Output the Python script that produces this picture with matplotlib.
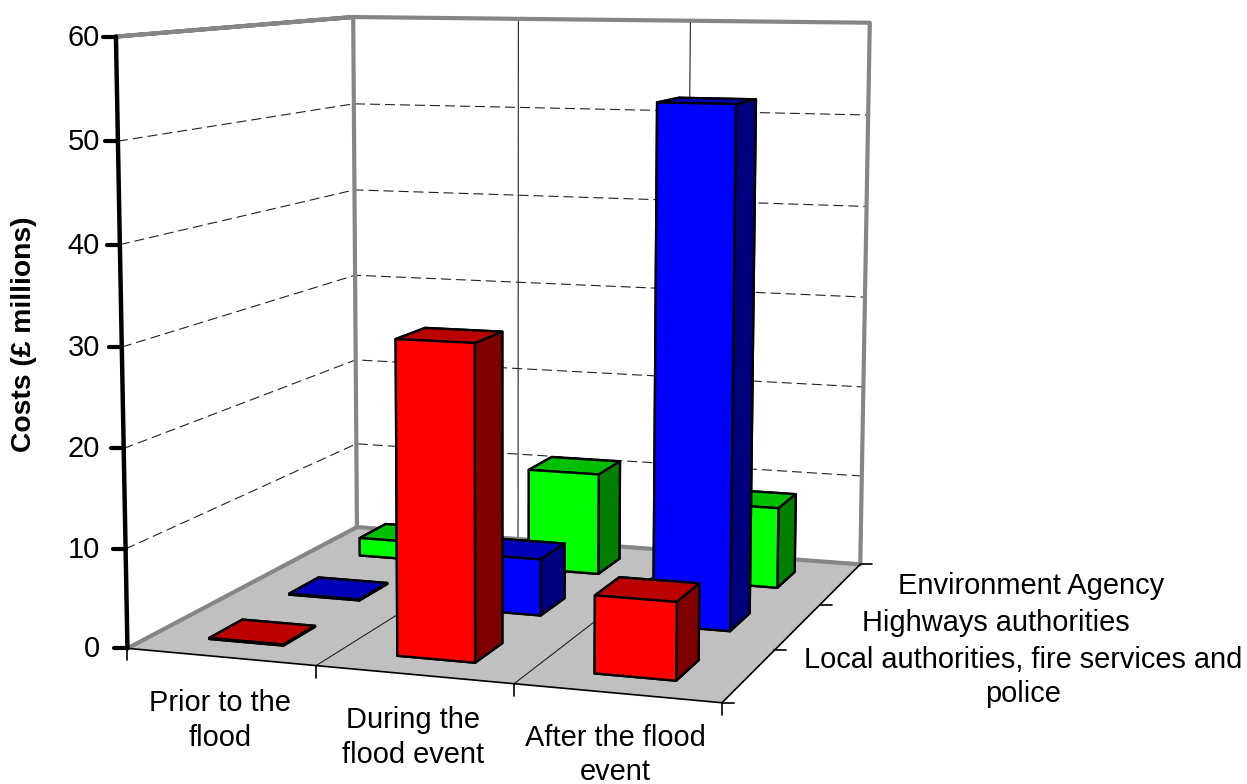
"""3D bar chart of flood costs, drawn with mplot3d and a camera fitted to the wall corners."""
import matplotlib
matplotlib.use("Agg")
import matplotlib.pyplot as plt
import numpy as np
from matplotlib.lines import Line2D
from mpl_toolkits.mplot3d.art3d import Poly3DCollection

W, H = 1247, 784

plt.rcParams["font.family"] = ["Liberation Sans", "DejaVu Sans"]

# %% data ---------------------------------------------------------------------
CATEGORIES = ["Prior to the\nflood", "During the\nflood event", "After the flood\nevent"]
SERIES = ["Local authorities, fire services and\npolice", "Highways authorities", "Environment Agency"]
LOCAL = [0.1, 31.2, 7.6]
HIGHWAYS = [0.1, 5.9, 53.1]
AGENCY = [2.0, 11.1, 8.7]
Z_TICKS = [0, 10, 20, 30, 40, 50, 60]

# colours per series: front, top, side
COLOURS = [("#ff0000", "#bb0000", "#7f0000"),
           ("#0000ff", "#0000bb", "#00007f"),
           ("#00ff00", "#00bf00", "#007f00")]

# %% camera: (x, y, z) in chart units -> picture pixels, fitted to the frame ---
CALIB = [
    (0, 0, 0, 128, 648), (1, 0, 0, 316, 666), (2, 0, 0, 513, 684), (3, 0, 0, 720, 703),
    (3, 1, 0, 775, 651), (3, 2, 0, 822, 604), (3, 3, 0, 860, 564), (0, 3, 0, 357, 527),
    (0, 0, 60, 116, 36), (0, 0, 50, 118, 140), (0, 0, 40, 120, 245), (0, 0, 30, 122, 347),
    (0, 0, 20, 124, 449), (0, 0, 10, 126, 549),
    (0, 3, 60, 353, 17), (0, 3, 50, 353, 104), (0, 3, 40, 354, 190), (0, 3, 10, 356, 444),
    (1, 3, 60, 519, 19), (2, 3, 60, 691, 21), (3, 3, 60, 870, 23),
    (3, 3, 50, 868, 115), (3, 3, 40, 866, 207), (3, 3, 30, 865, 297), (3, 3, 20, 863, 386),
    (3, 3, 10, 862, 476),
]


def fit_camera(points):
    rows, rhs = [], []
    for x, y, z, u, v in points:
        rows.append([x, y, z, 1, 0, 0, 0, 0, -u * x, -u * y, -u * z])
        rows.append([0, 0, 0, 0, x, y, z, 1, -v * x, -v * y, -v * z])
        rhs += [u, v]
    p = np.linalg.lstsq(np.array(rows, float), np.array(rhs, float), rcond=None)[0]
    return np.append(p, 1.0).reshape(3, 4)


P = fit_camera(CALIB)


def to_px(x, y, z):
    u, v, w = P @ np.array([x, y, z, 1.0])
    return u / w, v / w


def fig_xy(px, py):
    return px / W, 1 - py / H


fig = plt.figure(figsize=(W / 100, H / 100), dpi=100)
# square axes wide enough to hold the whole picture
ax = fig.add_axes([0, (H - W) / 2 / H, 1, W / H], projection="3d")
ax.set_axis_off()
ax.computed_zorder = False
ax.apply_aspect()

# express the camera in the 2D coordinates of the 3D axes
inv = ax.transData.inverted()
(u0, v0), (u1, v1) = inv.transform([(0, H), (W, 0)])  # pixel (0,0) and (W,H)
a, b = (u1 - u0) / W, u0
c, d = (v1 - v0) / H, v0
M = np.array([a * P[0] + b * P[2], c * P[1] + d * P[2], [0, 0, 0, -1.0], P[2]])
ax.get_proj = lambda: M


# %% floor and frame ----------------------------------------------------------
def line3(xs, ys, zs, **kw):
    ax.plot(xs, ys, zs, solid_capstyle="round", **kw)


floor = Poly3DCollection([[(0, 0, 0), (3, 0, 0), (3, 3, 0), (0, 3, 0)]],
                         facecolors="#c0c0c0", edgecolors="none", zorder=1)
ax.add_collection3d(floor)

for z in Z_TICKS[1:-1]:
    line3([0, 0, 3], [0, 3, 3], [z, z, z], color="#222222", lw=0.8,
          dashes=(9, 4.5), zorder=2)
for x in (1, 2):
    line3([x, x, x], [0, 3, 3], [0, 0, 60], color="#222222", lw=0.8, zorder=2)

GREY = "#868686"
line3([0, 0, 0, 3, 3, 0, 0], [0, 3, 3, 3, 3, 3, 0], [60, 60, 0, 0, 60, 60, 60],
      color=GREY, lw=3, zorder=3)
line3([0, 0], [0, 3], [0, 0], color=GREY, lw=3, zorder=3)
line3([0, 3, 3], [0, 0, 3], [0, 0, 0], color="black", lw=1.2, zorder=3)
line3([0, 0], [0, 0], [0, 60], color="black", lw=3.2, zorder=3)

# %% bars, back row first so that nearer bars paint over it --------------------
BAR_OFF, BAR_W = 0.3, 0.4
zo = 10
for row, values in reversed(list(enumerate([LOCAL, HIGHWAYS, AGENCY]))):
    front, top, side = COLOURS[row]
    for col, value in enumerate(values):
        ax.bar3d(col + BAR_OFF, row + BAR_OFF, 0, BAR_W, BAR_W, value,
                 color=[top, top, front, side, front, side], shade=False,
                 edgecolor="black", linewidth=1.7, zorder=zo)
        zo += 1


# %% ticks and labels, placed in picture pixels -------------------------------
def tick(px0, py0, dx, dy, lw):
    x0, y0 = fig_xy(px0, py0)
    x1, y1 = fig_xy(px0 + dx, py0 + dy)
    fig.add_artist(Line2D([x0, x1], [y0, y1], color="black", lw=lw,
                          solid_capstyle="round"))


for z in Z_TICKS:
    px, py = to_px(0, 0, z)
    tick(px, py, -13, 0, 3)
    fig.text(*fig_xy(100, py + 1), str(z), ha="right", va="center", fontsize=20.9)
for x in range(4):
    px, py = to_px(x, 0, 0)
    tick(px, py, 0, 12, 1.2)
for y in range(4):
    px, py = to_px(3, y, 0)
    tick(px, py, 12, 0, 1.2)

for label, (px, py) in zip(CATEGORIES, [(220, 720.5), (413, 737.5), (615, 755)]):
    fig.text(*fig_xy(px, py), label, ha="center", va="center", fontsize=20.9, linespacing=1.28)
for label, (px, py) in zip(SERIES, [(1023, 677), (996, 623), (1031, 586)]):
    fig.text(*fig_xy(px, py), label, ha="center", va="center", fontsize=20.9, linespacing=1.28)
fig.text(*fig_xy(24, 334), "Costs (£ millions)", rotation=90, ha="center", va="center",
         fontsize=20.3, fontweight="bold")

fig.savefig("out.png", dpi=100)
